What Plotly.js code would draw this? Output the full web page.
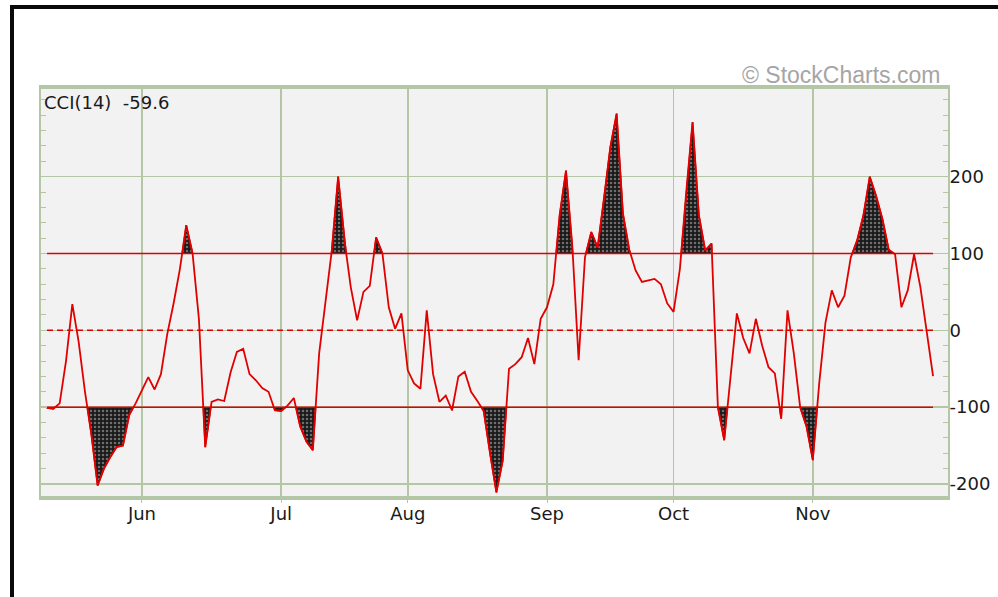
<!DOCTYPE html>
<html>
<head>
<meta charset="utf-8">
<script src="https://cdn.plot.ly/plotly-3.0.1.min.js"></script>
<style>
  html, body { margin: 0; padding: 0; background: #ffffff; }
  #frame { position: absolute; left: 10px; top: 5px; width: 988px; height: 592px;
           border-top: 4px solid #0a0a0a; border-left: 4px solid #0a0a0a; box-sizing: border-box; }
  #chart { position: absolute; left: 0; top: 0; width: 998px; height: 597px; }
</style>
</head>
<body>
<div id="frame"></div>
<div id="chart"></div>
<script>
// CCI(14) daily values, one per trading day (mid-May .. late Nov)
const cciValues = [
  -101, -102, -95, -40, 34, -15, -80, -135, -202, -180,
  -165, -152, -150, -110, -95, -78, -61, -77, -57, -5,
  35, 80, 137, 100, 15, -152, -93, -90, -92, -55,
  -28, -24, -57, -65, -75, -80, -104, -105, -98, -88,
  -125, -145, -156, -30, 40, 104, 200, 117, 56, 13,
  50, 58, 121, 100, 30, 2, 22, -52, -69, -76,
  26, -57, -93, -85, -104, -60, -54, -80, -92, -105,
  -160, -211, -170, -50, -44, -35, -10, -44, 15, 30,
  60, 150, 208, 110, -39, 95, 128, 108, 170, 238,
  282, 152, 105, 78, 63, 65, 67, 60, 35, 24,
  80, 180, 271, 150, 104, 113, -100, -143, -60, 22,
  -10, -30, 15, -20, -48, -56, -115, 26, -30, -100,
  -125, -169, -70, 10, 52, 30, 45, 95, 117, 150,
  200, 175, 145, 105, 99, 30, 52, 99, 56, 0,
  -59.6
];
// First trading day of each month (index into cciValues) and labels
const monthIdx = [15, 37, 57, 79, 99, 121];
const monthLabels = ['Jun', 'Jul', 'Aug', 'Sep', 'Oct', 'Nov'];
// Reference levels
const overbought = 100;
const oversold = -100;
const centre = 0;
const yLabels = [-200, -100, 0, 100, 200];

const days = cciValues.map((_, i) => i);
const lastX = days[days.length - 1];

// Build shaded polygons beyond a threshold
function regions(vals, level, above) {
  const out = [];
  let cur = null;
  const beyond = v => above ? v > level : v < level;
  for (let i = 0; i < vals.length; i++) {
    const v = vals[i];
    if (beyond(v)) {
      if (!cur) {
        cur = { x: [], y: [] };
        if (i > 0) {
          const p = vals[i - 1];
          const xc = (i - 1) + (level - p) / (v - p);
          cur.x.push(xc); cur.y.push(level);
        } else { cur.x.push(i); cur.y.push(level); }
      }
      cur.x.push(i); cur.y.push(v);
    } else if (cur) {
      const p = vals[i - 1];
      const xc = (i - 1) + (level - p) / (v - p);
      cur.x.push(xc); cur.y.push(level);
      out.push(cur); cur = null;
    }
  }
  if (cur) { cur.x.push(vals.length - 1); cur.y.push(level); out.push(cur); }
  return out;
}

const red = '#e00000';
const green = '#b3c7a6';
const traces = [];
const polys = regions(cciValues, overbought, true).concat(regions(cciValues, oversold, false));
polys.forEach(p => {
  traces.push({
    x: p.x, y: p.y, type: 'scatter', mode: 'lines', fill: 'toself',
    line: { color: red, width: 1.5 },
    fillcolor: '#1e1e1e',
    fillpattern: { shape: '.', bgcolor: '#1a1a1a', fgcolor: '#6e6e6e', size: 4, solidity: 0.3 },
    hoverinfo: 'skip', showlegend: false
  });
});
[overbought, oversold].forEach(l => {
  traces.push({ x: [0, lastX], y: [l, l], type: 'scatter', mode: 'lines',
    line: { color: red, width: 1.5 }, hoverinfo: 'skip', showlegend: false });
});
traces.push({ x: [0, lastX], y: [centre, centre], type: 'scatter', mode: 'lines',
  line: { color: red, width: 1.5, dash: '6px,4px' }, hoverinfo: 'skip', showlegend: false });
traces.push({ x: days, y: cciValues, type: 'scatter', mode: 'lines',
  line: { color: red, width: 1.8 }, showlegend: false });

const layout = {
  width: 998, height: 597,
  margin: { l: 41, r: 50, t: 89, b: 101 },
  paper_bgcolor: 'rgba(0,0,0,0)',
  plot_bgcolor: '#f2f2f2',
  showlegend: false,
  font: { family: 'DejaVu Sans', size: 18, color: '#1a1a1a' },
  xaxis: {
    range: [-0.95, 142.36],
    tickmode: 'array', tickvals: monthIdx, ticktext: monthLabels,
    showgrid: true, gridcolor: green, gridwidth: 1.5,
    ticks: 'outside', ticklen: 3, tickcolor: green,
    ticklabelstandoff: -5,
    showline: true, linecolor: green, linewidth: 4, mirror: true,
    zeroline: false, fixedrange: true,
    tickfont: { family: 'DejaVu Sans', size: 18, color: '#1a1a1a' }
  },
  yaxis: {
    range: [-215.6, 314.1], side: 'right',
    tickmode: 'array', tickvals: yLabels, ticktext: yLabels.map(String),
    showgrid: true, gridcolor: green, gridwidth: 1.5,
    ticks: 'inside', ticklen: 6, tickcolor: green, mirror: 'ticks',
    ticklabelstandoff: -4,
    minor: { dtick: 20, tick0: 0, ticks: 'inside', ticklen: 5, tickcolor: green, showgrid: false },
    showline: true, linecolor: green, linewidth: 2,
    zeroline: false, fixedrange: true,
    tickfont: { family: 'DejaVu Sans', size: 18, color: '#1a1a1a' }
  },
  annotations: [
    { text: 'CCI(14)\u00a0 ' + cciValues[cciValues.length - 1], xref: 'paper', yref: 'paper',
      x: 0.001, y: 0.968, xanchor: 'left', yanchor: 'middle', showarrow: false,
      font: { family: 'DejaVu Sans', size: 18, color: '#1a1a1a' } },
    { text: '\u00a9 StockCharts.com', xref: 'paper', yref: 'paper',
      x: 0.9934, y: 1.034, xanchor: 'right', yanchor: 'middle', showarrow: false,
      font: { family: 'Liberation Sans', size: 23, color: '#a5a5a5' } }
  ]
};

Plotly.newPlot('chart', traces, layout, { displayModeBar: false, staticPlot: true });
</script>
</body>
</html>
